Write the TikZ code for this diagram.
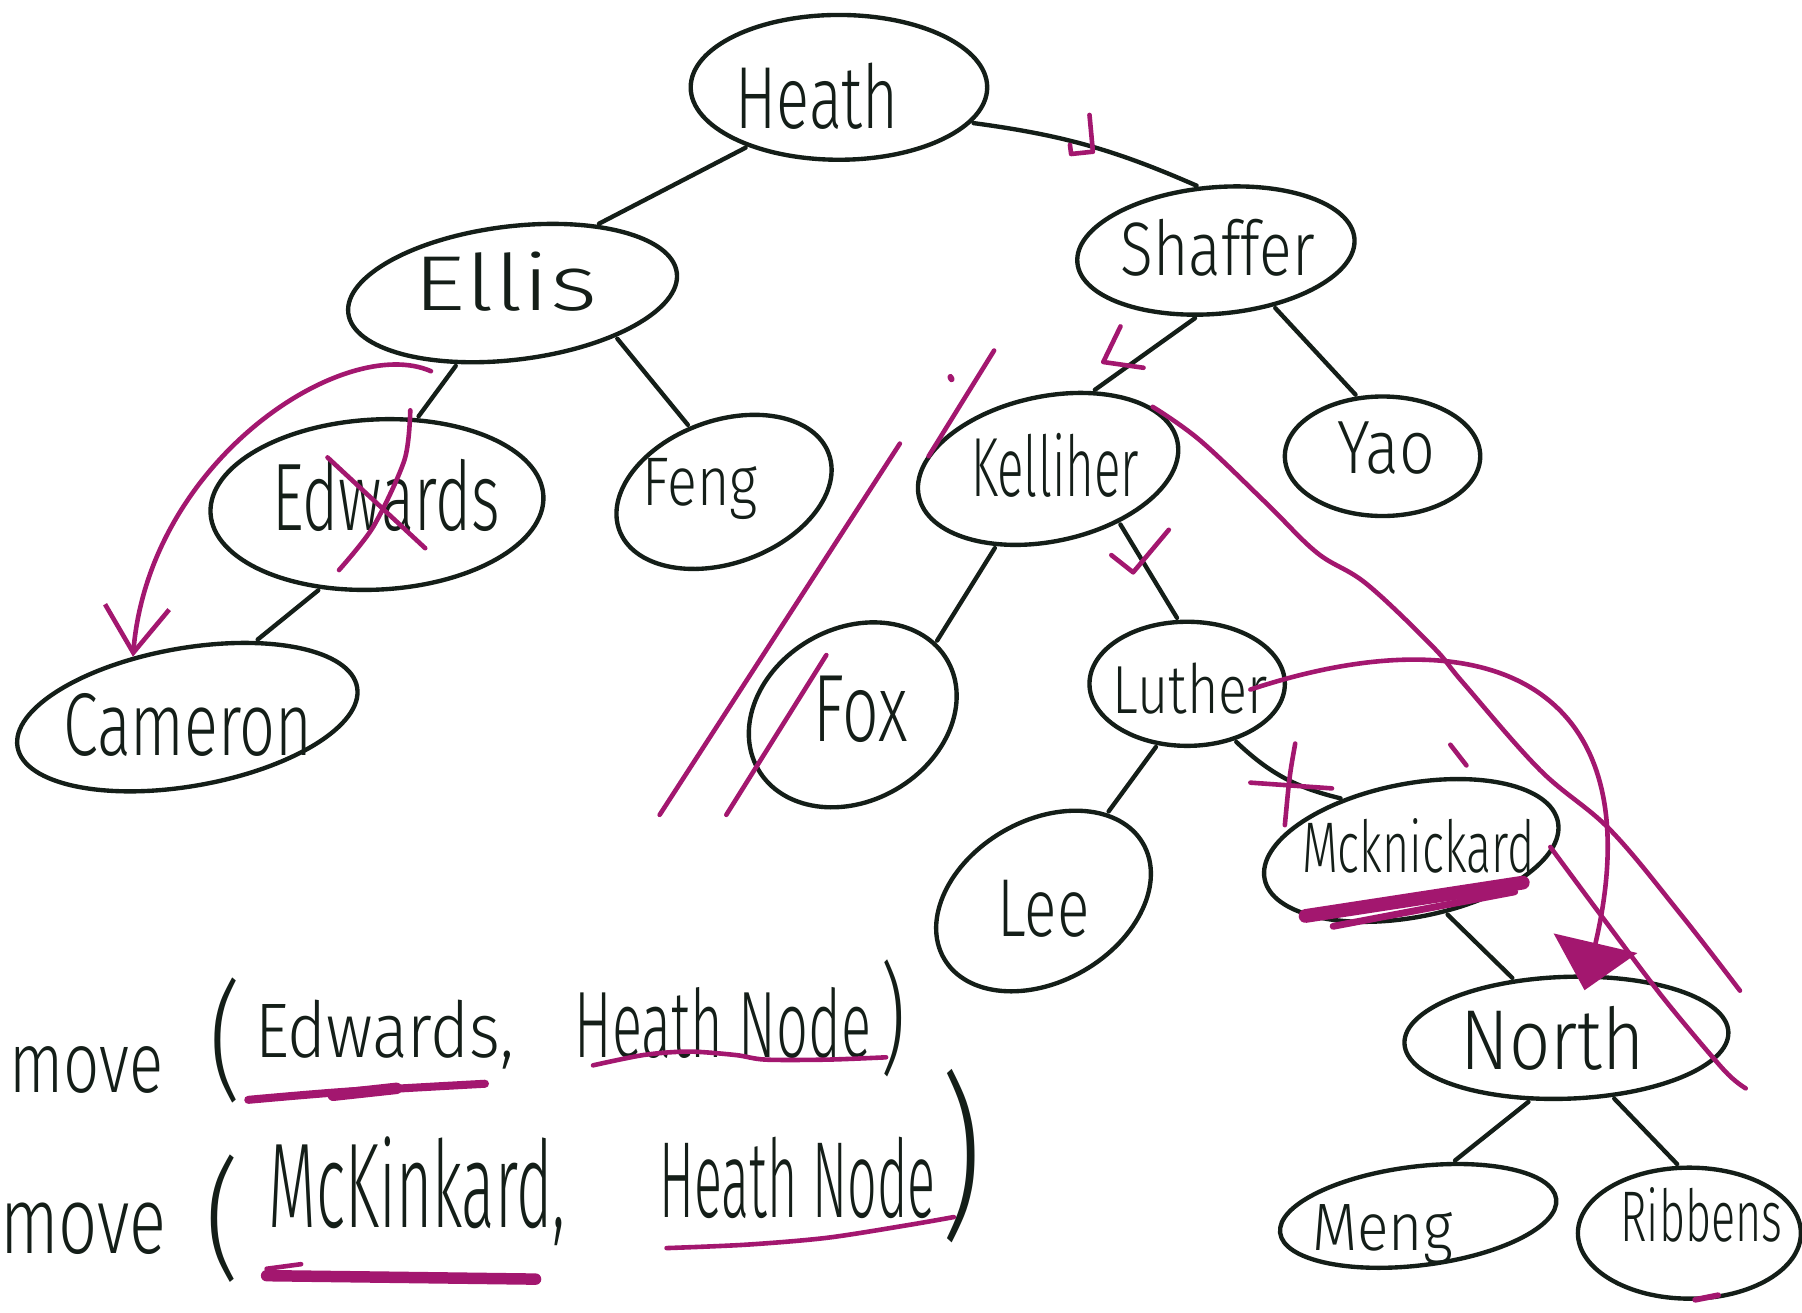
\documentclass[tikz,border=0pt]{standalone}
\usepackage{fontspec}
\setmainfont{Fira Sans Light}
\usetikzlibrary{shapes.geometric,arrows.meta}
\definecolor{inkc}{HTML}{141E18}
\definecolor{mag}{HTML}{A3176F}
\newlength\pxu
\setlength\pxu{0.5pt}
\newcommand\hwt[3]{\resizebox{#1\pxu}{#2\pxu}{#3}}
\newcommand\hwp[3]{\resizebox*{#1\pxu}{#2\pxu}{#3}}
\tikzset{
  bub/.style n args={3}{ellipse, draw=inkc, line width=1.9pt, inner sep=0pt,
    minimum width={2*#1*\pxu}, minimum height={2*#2*\pxu}, rotate=#3},
  lab/.style={inner sep=0pt, outer sep=0pt, text=inkc, anchor=base west},
  paren/.style={inner sep=0pt, outer sep=0pt, text=inkc, anchor=center},
  treeedge/.style={draw=inkc, line width=1.9pt, line cap=round, shorten <=1pt, shorten >=1pt},
  mg/.style={draw=mag, line width=2pt, line cap=round, line join=round},
}
\begin{document}
\begin{tikzpicture}[x=0.5pt, y=-0.5pt]
\useasboundingbox (0,0) rectangle (1568,1142);
\fill[white] (0,0) rectangle (1568,1142);

% ---- tree nodes (ellipses)
\node[bub={129}{63}{0}]   (heath)    at (730,76)   {};
\node[bub={144}{58}{7}]   (ellis)    at (446,255)  {};
\node[bub={121}{55}{5}]   (shaffer)  at (1058,218) {};
\node[bub={145}{74}{3}]   (edwards)  at (328,439)  {};
\node[bub={97}{62}{20}]   (feng)     at (630,428)  {};
\node[bub={115}{63}{12}]  (kelliher) at (912,408)  {};
\node[bub={85}{52}{0}]    (yao)      at (1203,397) {};
\node[bub={150}{60}{10}]  (cameron)  at (163,624)  {};
\node[bub={95}{75}{30}]   (fox)      at (742,622)  {};
\node[bub={85}{54}{0}]    (luther)   at (1033,595) {};
\node[bub={100}{70}{30}]  (lee)      at (908,784)  {};
\node[bub={130}{58}{11}]  (mck)      at (1228,740) {};
\node[bub={141}{53}{2}]   (north)    at (1363,903) {};
\node[bub={121}{43}{7}]   (meng)     at (1234,1058) {};
\node[bub={97}{57}{0}]    (ribbens)  at (1470,1073) {};

% ---- labels
\node[lab] (heath-t)    at (640,112)  {\hwt{142}{57}{Heath}};
\node[lab] (ellis-t)    at (360,270)  {\hwt{160}{51}{Ellis}};
\node[lab] (shaffer-t)  at (975,240)  {\hwt{169}{49}{Shaffer}};
\node[lab] (edwards-t)  at (237,462)  {\hwt{198}{62}{Edwards}};
\node[lab] (feng-t)     at (559,440)  {\hwt{100}{41}{Feng}};
\node[lab] (kelliher-t) at (845,432)  {\hwt{146}{55}{Kelliher}};
\node[lab] (yao-t)      at (1164,412) {\hwt{85}{45}{Yao}};
\node[lab] (cameron-t)  at (55,657)   {\hwt{217}{54}{Cameron}};
\node[lab] (fox-t)      at (708,645)  {\hwt{82}{57}{Fox}};
\node[lab] (luther-t)   at (968,621)  {\hwt{135}{44}{Luther}};
\node[lab] (lee-t)      at (868,815)  {\hwt{80}{49}{Lee}};
\node[lab] (mck-t)      at (1133,759) {\hwt{202}{47}{Mcknickard}};
\node[lab] (north-t)    at (1271,931) {\hwt{160}{55}{North}};
\node[lab] (meng-t)     at (1142,1088) {\hwt{122}{40}{Meng}};
\node[lab] (ribbens-t)  at (1410,1080) {\hwt{141}{47}{Ribbens}};

% ---- tree edges
\draw[treeedge] (heath.-15) to[bend left=8] (shaffer.100);
\draw[treeedge] (heath.213) -- (ellis.32);
\draw[treeedge] (ellis.225) -- (edwards.62);
\draw[treeedge] (ellis.-30) -- (feng.98);
\draw[treeedge] (shaffer.249) -- (kelliher.48);
\draw[treeedge] (shaffer.-49) -- (yao.113);
\draw[treeedge] (edwards.233) -- (cameron.38);
\draw[treeedge] (kelliher.224) -- (fox.11);
\draw[treeedge] (kelliher.-49) -- (luther.98);
\draw[treeedge] (luther.244) -- (lee.24);
\draw[treeedge] (luther.-50) to[bend right=15] (mck.132);
\draw[treeedge] (mck.-72) -- (north.130);
\draw[treeedge] (north.238) -- (meng.50);
\draw[treeedge] (north.-54) -- (ribbens.99);

% ---- expressions
\node[lab]   (mv1) at (8,951)     {\hwt{134}{40}{move}};
\node[paren] (lp1) at (196,905)   {\hwp{28}{109}{(}};
\node[lab]   (a11) at (222,920)   {\hwt{225}{50}{Edwards,}};
\node[lab]   (a12) at (500,920)   {\hwt{258}{61}{Heath Node}};
\node[paren] (rp1) at (777,886)   {\hwp{22}{102}{)}};
\node[lab]   (mv2) at (0,1091)    {\hwt{145}{44}{move}};
\node[paren] (lp2) at (194,1060)  {\hwp{30}{111}{(}};
\node[lab]   (a21) at (234,1068)  {\hwt{258}{79}{McKinkard,}};
\node[lab]   (a22) at (574,1059)  {\hwt{240}{70}{Heath Node}};
\node[paren] (rp2) at (836,1006)  {\hwp{36}{151}{)}};

% ---- magenta annotations
% check marks on edges
\draw[mg] (948,100) -- (951,132) -- (932,134) -- (931,126);
\draw[mg] (975,284) -- (960,315) -- (995,320);
\draw[mg] (967,483) -- (986,498) -- (1017,461);
\draw[mg] (1127,647) .. controls (1122,675) .. (1118,718);
\draw[mg] (1088,681) -- (1159,686);
\draw[mg] (1262,648) -- (1276,666);
% strokes near Kelliher / Fox
\draw[mg] (865,305) -- (808,397);
\draw[mg, line width=2.6pt] (827,328) -- (828,330);
\draw[mg] (574,709) -- (783,386);
\draw[mg] (632,709) -- (719,570);
% long dividing curves
\draw[mg] plot[smooth, tension=0.6] coordinates {(1003,354) (1044,383) (1102,438) (1146,481) (1189,508) (1247,563) (1273,594) (1340,670) (1401,722) (1462,795) (1514,862)};
\draw[mg] plot[smooth] coordinates {(1349,737) (1392,795) (1447,868) (1500,931) (1519,947)};
% Edwards crossed out
\draw[mg] plot[smooth] coordinates {(357,357) (352,400) (325,458) (295,496)};
\draw[mg] (285,398) -- (370,477);
% move arrows
\coordinate (mvA) at (375,323);
\draw[mg, -{Straight Barb[length=20pt,width=28pt]}] (mvA) .. controls (300,290) and (130,400) .. (cameron.122);
\coordinate (mvB) at (1088,600);
\draw[mg, shorten >=-7pt, -{Triangle[length=21pt,width=37pt]}] (mvB) .. controls (1300,530) and (1440,600) .. (north.69);
% underlines
\draw[mg, line width=6pt] (1136,797) -- (1325,768);
\draw[mg, line width=3pt] (1160,806) -- (1318,776);
\draw[mg, line width=2.5pt] (1475,1131) -- (1495,1127);
\draw[mg, line width=3.5pt] plot[smooth] coordinates {(216,957) (300,950) (422,943)};
\draw[mg, line width=5pt] (290,953) -- (345,947);
\draw[mg] plot[smooth] coordinates {(516,927) (560,918) (599,915) (640,918) (666,922) (720,922) (771,920)};
\draw[mg, line width=5pt] (232,1110) -- (466,1113);
\draw[mg, line width=2pt] (232,1104) -- (262,1100);
\draw[mg] plot[smooth] coordinates {(580,1086) (650,1083) (720,1077) (790,1066) (830,1059)};
\end{tikzpicture}
\end{document}
